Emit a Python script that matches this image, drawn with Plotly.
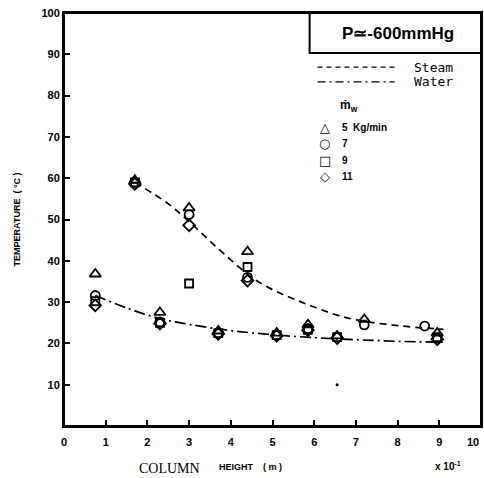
import plotly.graph_objects as go

# ---------------- data (x in units of 1e-1 m, y in deg C) ----------------
tri_x = [0.75, 1.7, 2.3, 3.0, 3.7, 4.4, 5.1, 5.85, 6.55, 7.2, 8.95]
tri_y = [36.8, 59.5, 27.5, 52.8, 23.0, 42.2, 22.5, 24.5, 21.8, 25.8, 22.5]

cir_x = [0.75, 1.7, 2.3, 3.0, 3.7, 4.4, 5.1, 5.85, 6.55, 7.2, 8.65, 8.95]
cir_y = [31.6, 59.0, 25.2, 51.2, 22.5, 36.0, 22.0, 23.6, 21.5, 24.5, 24.2, 21.3]

sq_x = [0.75, 1.7, 2.3, 3.0, 3.7, 4.4, 5.1, 5.85, 6.55, 8.95]
sq_y = [30.2, 59.0, 25.0, 34.5, 22.5, 38.5, 22.0, 23.3, 21.5, 21.5]

dia_x = [0.75, 1.7, 2.3, 3.0, 3.7, 4.4, 5.1, 5.85, 6.55, 8.95]
dia_y = [29.2, 58.6, 24.8, 48.6, 22.3, 35.2, 21.8, 23.2, 21.3, 21.0]

stray_x = [6.55]
stray_y = [10.0]

steam_x = [1.7, 2.5, 3.0, 3.5, 4.0, 4.5, 5.0, 5.5, 6.0, 6.5, 7.0, 8.0, 9.1]
steam_y = [59.0, 53.8, 49.5, 44.8, 40.2, 36.0, 33.0, 30.8, 28.8, 27.0, 25.7, 24.3, 23.4]

water_x = [0.75, 1.5, 2.3, 3.0, 4.0, 5.0, 6.0, 7.0, 8.0, 9.1]
water_y = [31.6, 28.6, 26.0, 24.6, 23.1, 22.1, 21.4, 20.9, 20.5, 20.3]

x_ticks = [0, 1, 2, 3, 4, 5, 6, 7, 8, 9, 10]
x_labels = ["0", "1", "2", "3", "4", "5", "6", "7", "8", "9", ""]
x_last_label = "10"
y_ticks = [10, 20, 30, 40, 50, 60, 70, 80, 90, 100]
y_labels = ["10", "20", "30", "40", "50", "60", "70", "80", "90", "100"]

# ---------------- figure ----------------
fig = go.Figure()

fig.add_trace(go.Scatter(x=steam_x, y=steam_y, mode="lines", line_shape="spline",
                         line=dict(color="black", width=1.7, dash="7px,5px")))
fig.add_trace(go.Scatter(x=water_x, y=water_y, mode="lines", line_shape="spline",
                         line=dict(color="black", width=1.7, dash="11px,4px,2px,4px")))

mk = dict(color="black", size=9, line=dict(color="black", width=1.8))
fig.add_trace(go.Scatter(x=tri_x, y=tri_y, mode="markers",
                         marker=dict(mk, symbol="triangle-up-open", size=10)))
fig.add_trace(go.Scatter(x=cir_x, y=cir_y, mode="markers",
                         marker=dict(mk, symbol="circle-open")))
fig.add_trace(go.Scatter(x=sq_x, y=sq_y, mode="markers",
                         marker=dict(mk, symbol="square-open", size=8)))
fig.add_trace(go.Scatter(x=dia_x, y=dia_y, mode="markers",
                         marker=dict(mk, symbol="diamond-open")))
fig.add_trace(go.Scatter(x=stray_x, y=stray_y, mode="markers",
                         marker=dict(color="black", size=3, symbol="circle")))

tickfont = dict(family="Liberation Sans", size=11, color="black", weight="bold")

axis_common = dict(ticks="inside", ticklen=6, tickwidth=1.6, tickcolor="black",
                   automargin=False, layer="above traces",
                   showline=True, linecolor="black", linewidth=2, mirror=True,
                   showgrid=False, zeroline=False, tickfont=tickfont)
fig.update_xaxes(range=[0, 10], tickvals=x_ticks, ticktext=x_labels,
                 ticklabelstandoff=5, **axis_common)
fig.update_yaxes(range=[0, 100], tickvals=y_ticks, ticktext=y_labels, **axis_common)

fig.update_layout(template="none", width=484, height=478, showlegend=False,
                  margin=dict(l=64, r=3, t=13, b=52),
                  plot_bgcolor="white", paper_bgcolor="white")

# plot frame
fig.add_shape(type="rect", xref="paper", yref="paper", x0=0, x1=1, y0=0, y1=1,
              line=dict(color="black", width=2), layer="above")

# pressure box
fig.add_shape(type="rect", xref="paper", yref="paper", x0=0.589, x1=1.0, y0=0.903, y1=1.0,
              line=dict(color="black", width=2), fillcolor="white")


def note(x, y, text, font, xa="center", ya="middle", angle=0):
    fig.add_annotation(xref="paper", yref="paper", x=x, y=y, xanchor=xa, yanchor=ya,
                       showarrow=False, text=text, font=font, textangle=angle)


# last x tick label kept inside the page edge
note(1.0, -0.038, x_last_label, tickfont, xa="right")

note(0.8, 0.951, "P≃-600mmHg",
     dict(family="Liberation Sans", size=17, color="black", weight="bold"))

# legend lines
fig.add_shape(type="line", xref="paper", yref="paper", x0=0.608, x1=0.793, y0=0.869, y1=0.869,
              line=dict(color="black", width=1.3, dash="5px,4px"))
fig.add_shape(type="line", xref="paper", yref="paper", x0=0.608, x1=0.793, y0=0.833, y1=0.833,
              line=dict(color="black", width=1.3, dash="8px,4px,2px,4px"))
mono = dict(family="DejaVu Sans Mono", size=13, color="black")
note(0.835, 0.869, "Steam", mono, xa="left")
note(0.835, 0.833, "Water", mono, xa="left")
note(0.657, 0.775, "ṁ<sub>w</sub>",
     dict(family="Liberation Sans", size=12, color="black", weight="bold"), xa="left")

sym_font = dict(family="DejaVu Sans", size=13, color="black")
lab_font = dict(family="Liberation Sans", size=10, color="black", weight="bold")
legend_rows = [("△", "5  Kg/min", 0.722), ("○", "7", 0.683), ("□", "9", 0.644), ("◇", "11", 0.605)]
for sym, lab, yy in legend_rows:
    note(0.625, yy, sym, sym_font)
    note(0.662, yy, lab, lab_font, xa="left")

# axis titles
note(-0.113, 0.5, "TEMPERATURE  ( °C )",
     dict(family="Liberation Sans", size=9, color="black", weight="bold"), angle=-90)
note(0.175, -0.102, "COLUMN", dict(family="Liberation Serif", size=14, color="black"), xa="left")
note(0.368, -0.1, "HEIGHT    ( m )",
     dict(family="Liberation Sans", size=9, color="black", weight="bold"), xa="left")
note(0.885, -0.098, "x 10<sup>-1</sup>",
     dict(family="Liberation Sans", size=10, color="black", weight="bold"), xa="left")

fig.write_html("out.html")
